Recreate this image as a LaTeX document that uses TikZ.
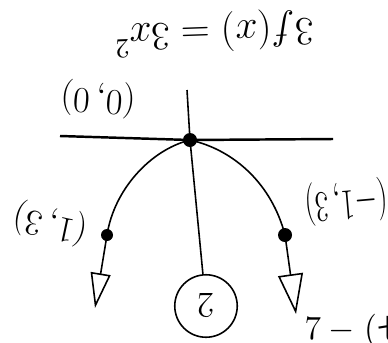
\documentclass[tikz,border=0pt]{standalone}
\usepackage{fontspec}
\newfontfamily\cjk{Noto Sans CJK SC}
\usetikzlibrary{arrows.meta,positioning,calc}
\tikzset{every picture/.style={line width=0.75pt}}
\tikzset{
  hand/.style={line width=0.9pt},
  upside/.style={rotate=180,inner sep=0pt},
  ptdot/.style={fill=black}
}

\begin{document}
\begin{tikzpicture}[x=0.02cm,y=-0.02cm]
    \useasboundingbox (0,0) rectangle (388,342);
    % 函数式
    \node[upside,rotate=2] (fx) at (214,33) {\scalebox{1.1}{\huge $3f(x)=3x^2$}};
    % 轴与顶点
    \coordinate (ax1) at (60,136);
    \coordinate (ax2) at (333,139);
    \coordinate (top) at (187,90);
    \coordinate (v) at (190,140);
    \draw[line width=1.4pt] (ax1) -- (v) -- (ax2);
    \draw[hand] (top) -- (v);
    \node[upside,rotate=-4] (o) at (98,99) {\huge $(0,0)$};
    % 抛物线上的两点
    \coordinate (l) at (107,235);
    \coordinate (r) at (285,235);
    \coordinate (la) at (95,308);
    \coordinate (ra) at (296,314);
    \draw[hand] (v) .. controls (150,150) and (114,190) .. (l);
    \draw[hand] (v) .. controls (235,150) and (272,185) .. (r);
    \draw[hand,-{Triangle[open,length=7mm,width=4mm]}] (l) -- (la);
    \draw[hand,-{Triangle[open,length=8mm,width=5mm]}] (r) -- (ra);
    \fill[ptdot] (v) circle (7);
    \fill[ptdot] (l) circle (6);
    \fill[ptdot] (r) circle (7);
    \node[upside,rotate=-12] (p1) at (50,224) {\huge $(1,3)$};
    \node[upside,rotate=5] (p2) at (346,202) {\scalebox{0.8}[1.2]{\huge $(-1,3)$}};
    % 圈号
    \node[draw,circle,hand,minimum size=1.25cm,inner sep=0pt] (c2) at (206,306) {\rotatebox{180}{\huge 2}};
    \draw[hand] (v) -- (c2);
    % 页脚
    \node[anchor=base west,inner sep=0pt] (fig) at (304,339) {\scalebox{1.6}{\large $7-{}$}\hspace{1pt}\scalebox{1.6}{\large (}{\cjk\fontsize{16}{18}\selectfont 七}};
\end{tikzpicture}
\end{document}
